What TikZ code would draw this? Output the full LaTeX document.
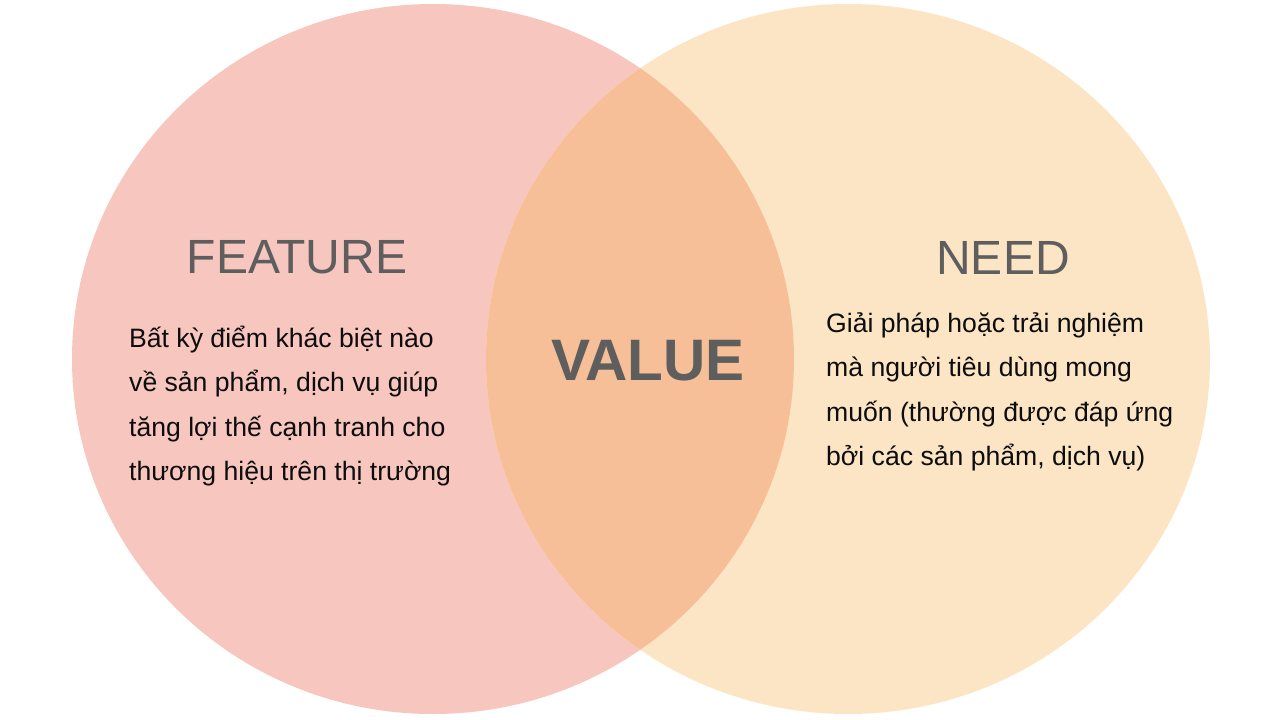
\documentclass[tikz,border=0pt]{standalone}
\usepackage{fontspec}
\setmainfont{Liberation Sans}
\definecolor{featurepink}{HTML}{F7C6BE}
\definecolor{needcream}{HTML}{FCE5C4}
\definecolor{valuepeach}{HTML}{F6BF97}
\definecolor{titlegray}{HTML}{5E5E5E}
\tikzset{
  title/.style={text=titlegray, inner sep=0pt, font=\fontsize{48}{48}\selectfont},
  body/.style={text=black!95, inner sep=0pt, align=left, anchor=west, font=\fontsize{26.6}{44.5}\selectfont}
}
\begin{document}
\begin{tikzpicture}[x=1pt, y=-1pt]
    \useasboundingbox (0, 0) rectangle (1280, 720);
    \fill[white] (0, 0) rectangle (1280, 720);

    \fill[featurepink] (433, 359) ellipse [x radius=361, y radius=355];
    \fill[needcream] (848, 359) ellipse [x radius=362, y radius=355];
    \begin{scope}
      \clip (433, 359) ellipse [x radius=361, y radius=355];
      \fill[valuepeach] (848, 359) ellipse [x radius=362, y radius=355];
    \end{scope}

    \node[title] (feature) at (297, 257) {FEATURE};
    \node[title] (need) at (1003, 258) {NEED};
    \node[title, font=\fontsize{58.5}{58.5}\selectfont\bfseries] (value) at (648, 361) {VALUE};

    \node[body] (featuretext) at (129, 406) {Bất kỳ điểm khác biệt nào\\về sản phẩm, dịch vụ giúp\\tăng lợi thế cạnh tranh cho\\thương hiệu trên thị trường};
    \node[body] (needtext) at (826, 392) {Giải pháp hoặc trải nghiệm\\mà người tiêu dùng mong\\muốn (thường được đáp ứng\\bởi các sản phẩm, dịch vụ)};
  \end{tikzpicture}
\end{document}
